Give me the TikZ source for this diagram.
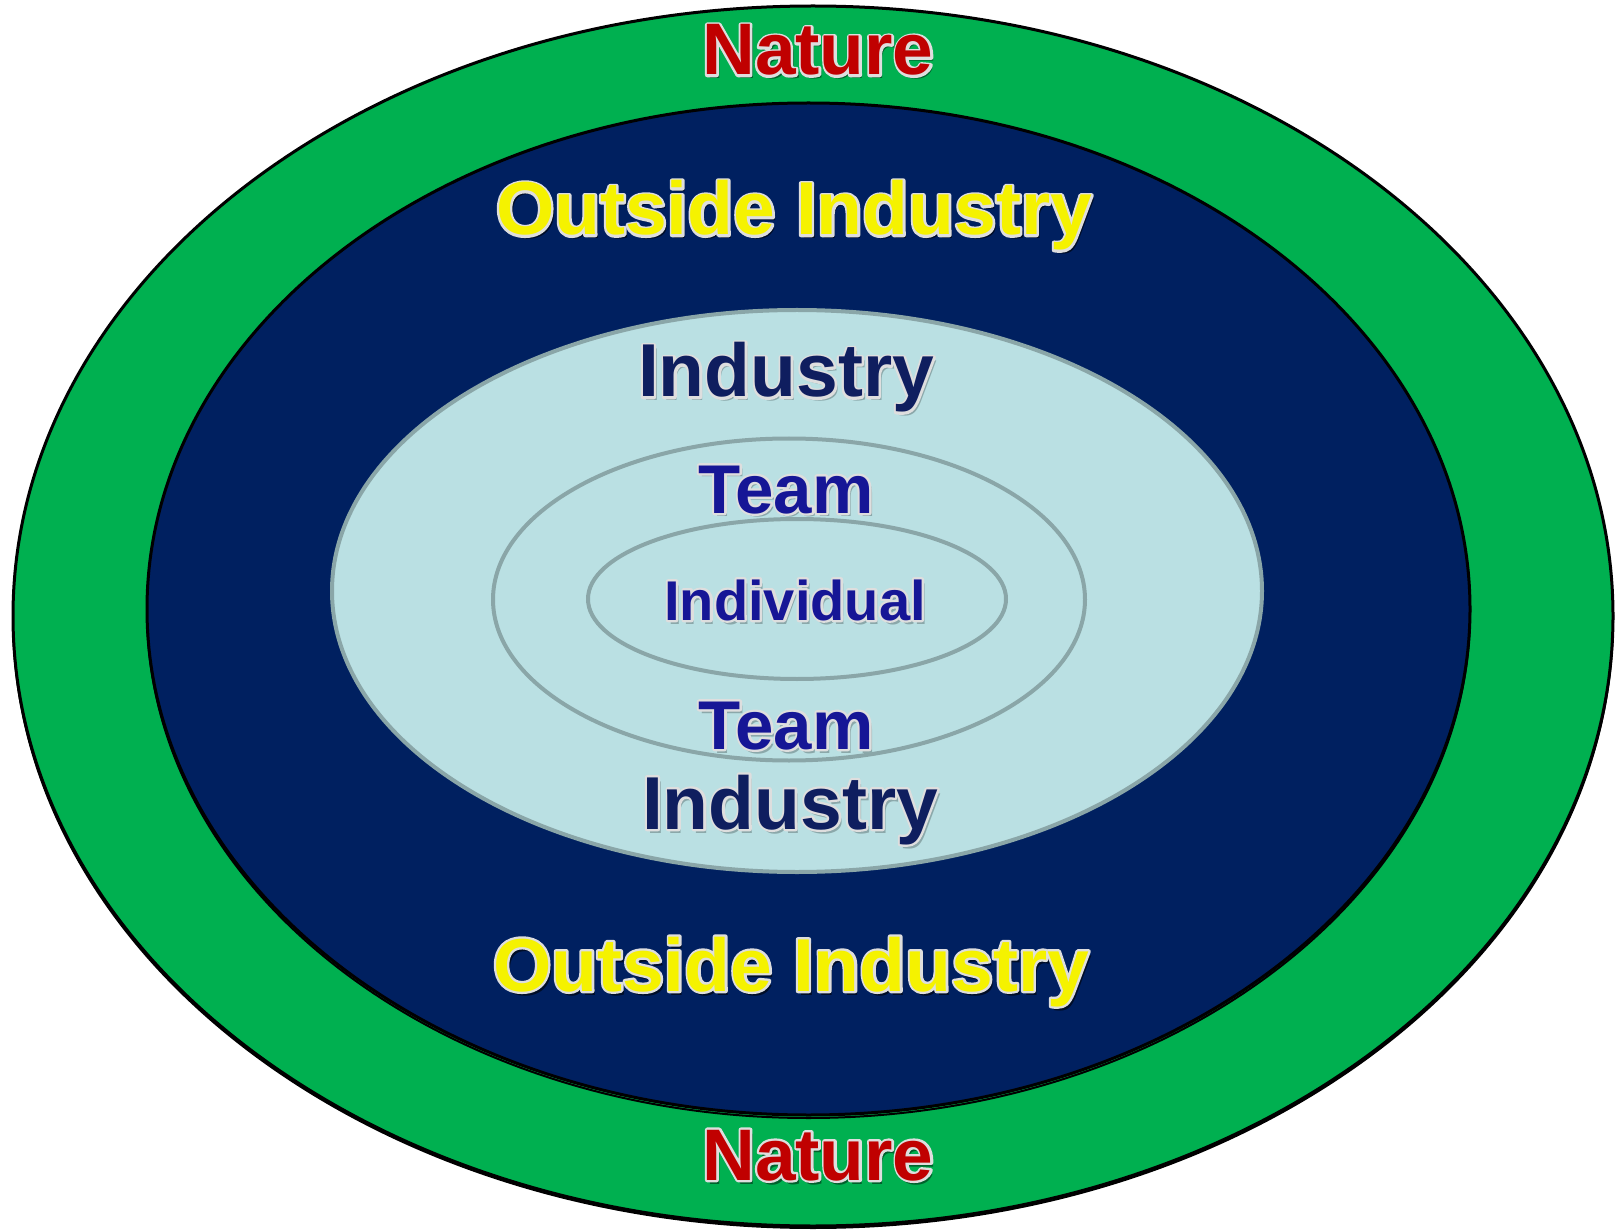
\documentclass[tikz,border=0pt]{standalone}
\usepackage{fontspec}
\setmainfont{Liberation Sans}
\definecolor{natgreen}{RGB}{0,176,80}
\definecolor{navyfill}{RGB}{0,32,96}
\definecolor{lightfill}{RGB}{186,224,227}
\definecolor{ringgray}{RGB}{138,166,168}
\definecolor{natred}{RGB}{192,0,0}
\definecolor{outyellow}{RGB}{245,242,0}
\definecolor{indnavy}{RGB}{15,30,95}
\definecolor{teamblue}{RGB}{22,22,150}
\definecolor{glow}{RGB}{222,222,222}
\newcommand\fxlabel[3]{%
  \makebox[0pt][l]{\hspace{3pt}\raisebox{-4pt}{\textcolor{#3}{#2}}}%
  \makebox[0pt][l]{\textcolor{glow}{\special{pdf:literal direct 1 Tr 4.6 w 1 j 0.87 0.87 0.87 RG}#2\special{pdf:literal direct 0 Tr}}}%
  \textcolor{#1}{#2}}
\tikzset{
  lbl/.style={anchor=base, inner sep=0pt, font=\bfseries\fontsize{#1}{#1}\selectfont},
  ring/.style={draw=ringgray, line width=4pt}
}
\begin{document}
\begin{tikzpicture}[x=1pt,y=-1pt]
\useasboundingbox (0,0) rectangle (1618,1230);
% outer green
\draw[black, line width=2pt] (813,619) ellipse [x radius=800, y radius=609];
\draw[black, line width=3pt, fill=natgreen] (813,616) ellipse [x radius=800, y radius=610];
% dark blue
\draw[black, line width=2pt] (808.5,612) ellipse [x radius=661.5, y radius=506];
\draw[black, line width=3pt, fill=navyfill] (808.5,609) ellipse [x radius=661.5, y radius=506];
% light blue industry
\draw[ring, fill=lightfill] (797,591) ellipse [x radius=465, y radius=281];
% team
\draw[ring] (789,599.5) ellipse [x radius=296, y radius=161];
% individual
\draw[ring] (797,599) ellipse [x radius=209, y radius=80];
% labels
\node[lbl=73] (natureTop) at (818,75) {\fxlabel{natred}{Nature}{black!45!natgreen}};
\node[lbl=75] (outTop) at (794,235) {\fxlabel{outyellow}{Outside Industry}{black!60!navyfill}};
\node[lbl=75] (indTop) at (786,397) {\fxlabel{indnavy}{Industry}{black!25!lightfill}};
\node[lbl=69] (teamTop) at (786,513) {\fxlabel{teamblue}{Team}{black!25!lightfill}};
\node[lbl=56] (individual) at (795,620) {\fxlabel{teamblue}{Individual}{black!25!lightfill}};
\node[lbl=69] (teamBot) at (786,749) {\fxlabel{teamblue}{Team}{black!25!lightfill}};
\node[lbl=75] (indBot) at (790,829) {\fxlabel{indnavy}{Industry}{black!25!lightfill}};
\node[lbl=75] (outBot) at (791,991) {\fxlabel{outyellow}{Outside Industry}{black!60!navyfill}};
\node[lbl=73] (natureBot) at (818,1180) {\fxlabel{natred}{Nature}{black!45!natgreen}};
\end{tikzpicture}
\end{document}
